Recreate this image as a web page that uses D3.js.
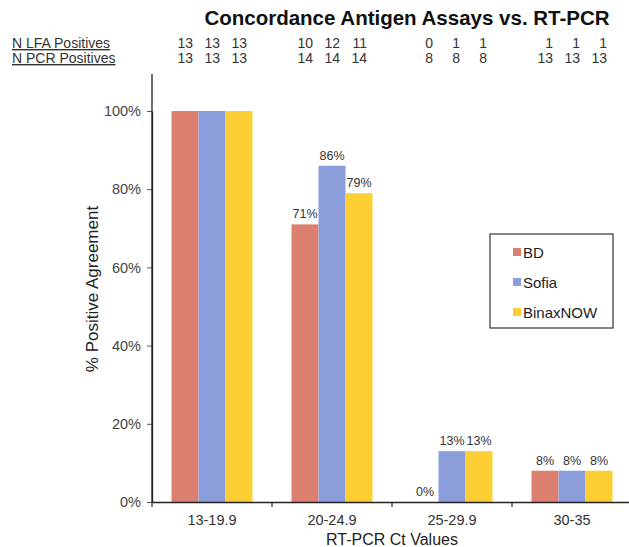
<!DOCTYPE html>
<html><head><meta charset="utf-8">
<script src="https://cdn.jsdelivr.net/npm/d3@7"></script>
<style>body{margin:0;background:#fff}svg{display:block;font-family:Arial,"Liberation Sans",sans-serif}</style>
</head><body>
<script>
const categories = ["13-19.9", "20-24.9", "25-29.9", "30-35"];
const seriesNames = ["BD", "Sofia", "BinaxNOW"];
const bdValues = [100, 71, 0, 8];
const sofiaValues = [100, 86, 13, 8];
const binaxValues = [100, 79, 13, 8];
const showValueLabels = [false, true, true, true];
const nLfa = [[13,13,13],[10,12,11],[0,1,1],[1,1,1]];
const nPcr = [[13,13,13],[14,14,14],[8,8,8],[13,13,13]];
const yTicks = [0, 20, 40, 60, 80, 100];
const colors = ["#DB806F", "#8B9EDB", "#FDCF35"];

(function () {
const W = 629, H = 547;
const svg = d3.select("body").append("svg").attr("width", W).attr("height", H);
const mLeft = 152, mRight = 632, mTop = 111, mBottom = 502;
const FONT = "Arial, Liberation Sans, sans-serif";

const x = d3.scaleBand().domain(categories).range([mLeft, mRight]).paddingInner(0).paddingOuter(0);
const xs = d3.scaleBand().domain(seriesNames).range([0, 81]);
const y = d3.scaleLinear().domain([0, 100]).range([mBottom, mTop]);

const series = [bdValues, sofiaValues, binaxValues];
const groupOffset = (x.bandwidth() - 81) / 2;
const barCenter = (c, s) => x(c) + groupOffset + xs(s) + xs.bandwidth() / 2;

// bars
seriesNames.forEach((s, si) => {
  svg.append("g").selectAll("rect").data(categories).join("rect")
    .attr("x", c => x(c) + groupOffset + xs(s))
    .attr("width", xs.bandwidth())
    .attr("y", (c, i) => y(series[si][i]))
    .attr("height", (c, i) => y(0) - y(series[si][i]))
    .attr("fill", colors[si]);
  svg.append("g").selectAll("text").data(categories.map((c, i) => ({c, i})).filter(d => showValueLabels[d.i])).join("text")
    .attr("x", d => barCenter(d.c, s))
    .attr("y", d => y(series[si][d.i]) - 6)
    .attr("text-anchor", "middle").attr("font-size", 12.5).attr("fill", "#333")
    .text(d => series[si][d.i] + "%");
});

// y axis
const yAxis = svg.append("g").attr("transform", `translate(${mLeft},0)`)
  .call(d3.axisLeft(y).tickValues(yTicks).tickFormat(d => d + "%").tickSize(5).tickSizeOuter(0));
yAxis.select(".domain").attr("stroke", "#222").attr("stroke-width", 1.3);
yAxis.selectAll(".tick line").attr("stroke", "#555");
yAxis.selectAll(".tick text").attr("font-size", 14.5).attr("fill", "#444").attr("x", -11)
  .attr("font-family", FONT);
svg.append("line").attr("x1", mLeft).attr("x2", mLeft).attr("y1", 74).attr("y2", mBottom).attr("stroke", "#222").attr("stroke-width", 1.3);

// x axis
const xAxis = svg.append("g").attr("transform", `translate(0,${mBottom})`)
  .call(d3.axisBottom(x).tickSize(0).tickSizeOuter(0));
xAxis.select(".domain").attr("stroke", "#222").attr("stroke-width", 1.3);
xAxis.selectAll(".tick text").attr("font-size", 14.5).attr("fill", "#333").attr("dy", "1.35em")
  .attr("font-family", FONT);
svg.append("g").selectAll("line").data(categories).join("line")
  .attr("x1", c => x(c)).attr("x2", c => x(c)).attr("y1", mBottom).attr("y2", mBottom + 5)
  .attr("stroke", "#222").attr("stroke-width", 1.2);

// axis titles
svg.append("text").attr("x", 392).attr("y", 545).attr("text-anchor", "middle")
  .attr("font-size", 16).attr("fill", "#222").text("RT-PCR Ct Values");
svg.append("text").attr("transform", "translate(98,289) rotate(-90)").attr("text-anchor", "middle")
  .attr("font-size", 17).attr("fill", "#222").text("% Positive Agreement");

// title
svg.append("text").attr("x", 407).attr("y", 25).attr("text-anchor", "middle")
  .attr("font-size", 20.5).attr("font-weight", "bold").attr("fill", "#111")
  .text("Concordance Antigen Assays vs. RT-PCR");

// N rows
const rows = [["N LFA Positives", nLfa, 48], ["N PCR Positives", nPcr, 63]];
rows.forEach(([label, vals, yy]) => {
  svg.append("text").attr("x", 12).attr("y", yy).attr("font-size", 14).attr("fill", "#333")
    .attr("text-decoration", "underline").text(label);
  categories.forEach((c, ci) => {
    seriesNames.forEach((s, si) => {
      svg.append("text")
        .attr("x", barCenter(c, s) + 8)
        .attr("y", yy).attr("text-anchor", "end").attr("font-size", 14).attr("fill", "#333")
        .text(vals[ci][si]);
    });
  });
});

// legend
const lg = svg.append("g").attr("transform", "translate(490,234)");
lg.append("rect").attr("width", 123).attr("height", 94).attr("fill", "#fff").attr("stroke", "#333").attr("stroke-width", 1.2);
seriesNames.forEach((s, i) => {
  lg.append("rect").attr("x", 23).attr("y", 14 + i * 30).attr("width", 8).attr("height", 8).attr("fill", colors[i]);
  lg.append("text").attr("x", 33).attr("y", 23.5 + i * 30).attr("font-size", 15).attr("fill", "#222").text(s);
});
})();
</script>
</body></html>
